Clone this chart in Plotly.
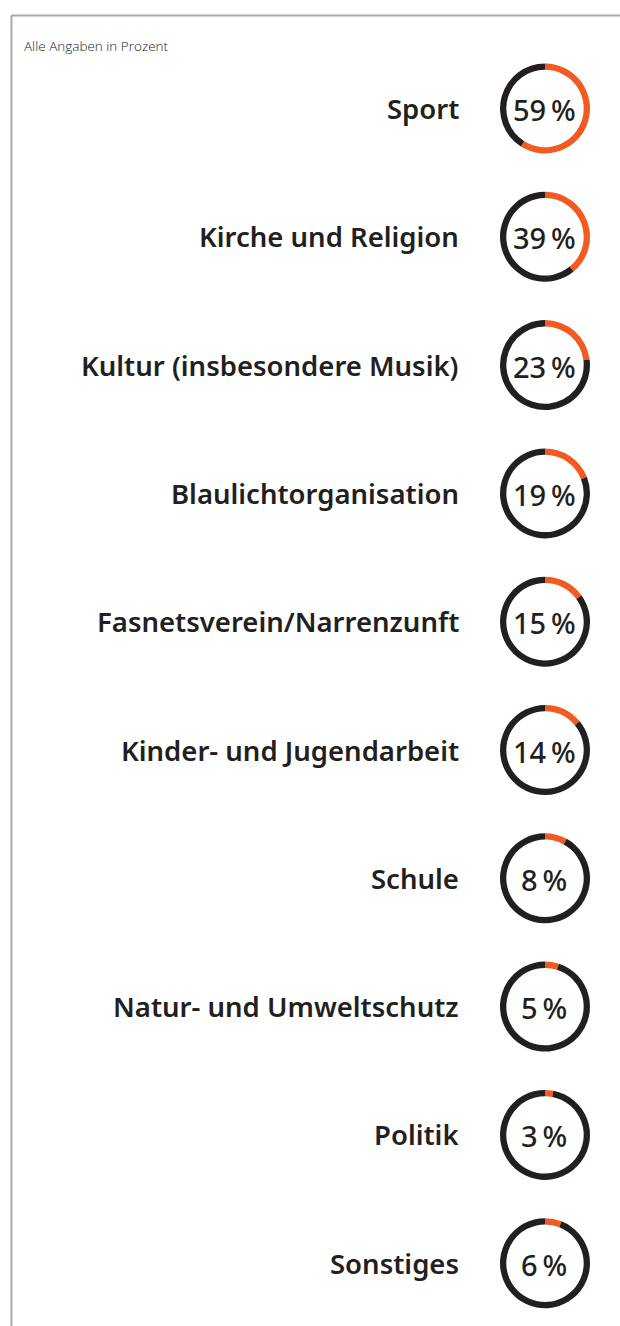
import plotly.graph_objects as go

categories = ["Sport", "Kirche und Religion", "Kultur (insbesondere Musik)",
              "Blaulichtorganisation", "Fasnetsverein/Narrenzunft",
              "Kinder- und Jugendarbeit", "Schule", "Natur- und Umweltschutz",
              "Politik", "Sonstiges"]
values = [59, 39, 23, 19, 15, 14, 8, 5, 3, 6]
subtitle = "Alle Angaben in Prozent"

W, H = 620, 1326
ORANGE = "#F15A22"
DARK = "#231F20"

cx, r = 545, 45
y0, dy = 108.5, 128.3

fig = go.Figure()
annotations = []
for i, (cat, v) in enumerate(zip(categories, values)):
    cy = y0 + i * dy
    fig.add_trace(go.Pie(
        values=[v, 100 - v],
        labels=["Anteil", "Rest"],
        sort=False,
        direction="clockwise",
        rotation=0,
        hole=0.86,
        marker=dict(colors=[ORANGE, DARK], line=dict(width=0)),
        textinfo="none",
        hoverinfo="skip",
        showlegend=False,
        domain=dict(x=[(cx - r) / W, (cx + r) / W],
                    y=[1 - (cy + r) / H, 1 - (cy - r) / H]),
    ))
    annotations.append(dict(
        x=(cx - 1) / W, y=1 - (cy + 1) / H, xref="paper", yref="paper",
        text=f"{v}\u2009%", showarrow=False, xanchor="center", yanchor="middle",
        font=dict(family="Noto Sans", size=29, color=DARK, weight=500),
    ))
    annotations.append(dict(
        x=461 / W, y=1 - cy / H, xref="paper", yref="paper",
        text=cat, showarrow=False, xanchor="right", yanchor="middle",
        font=dict(family="Noto Sans", size=27.5, color=DARK, weight=600),
    ))

annotations.append(dict(
    x=22 / W, y=1 - 46 / H, xref="paper", yref="paper",
    text=subtitle, showarrow=False, xanchor="left", yanchor="middle",
    font=dict(family="Open Sans", size=13.5, color="#222222", weight=300),
))

fig.update_layout(
    width=W, height=H,
    margin=dict(l=0, r=0, t=0, b=0),
    paper_bgcolor="white", plot_bgcolor="white",
    annotations=annotations,
    shapes=[
        dict(type="line", xref="paper", yref="paper",
             x0=11.5 / W, x1=1, y0=1 - 15.5 / H, y1=1 - 15.5 / H,
             line=dict(color="#AAAAAA", width=2)),
        dict(type="line", xref="paper", yref="paper",
             x0=11.5 / W, x1=11.5 / W, y0=0, y1=1 - 15.5 / H,
             line=dict(color="#AAAAAA", width=2)),
    ],
)

fig.write_html("out.html", config={"displayModeBar": False},
               post_script="document.body.style.margin='0';document.body.style.overflow='hidden';")
